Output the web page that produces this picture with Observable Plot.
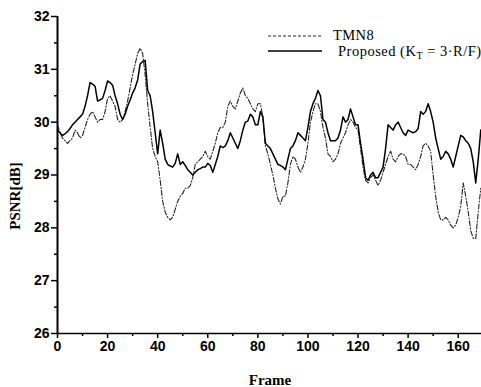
<!DOCTYPE html>
<html><head><meta charset="utf-8">
<script src="https://cdn.jsdelivr.net/npm/d3@7"></script>
<script src="https://cdn.jsdelivr.net/npm/@observablehq/plot@0.6"></script>
<style>body{margin:0;background:#fff}
g[aria-label$="tick label"] text{font-weight:bold}</style>
</head><body><div id="chart"></div>
<script>
const tmn8 = [
29.95,29.8,29.7,29.65,29.6,29.65,29.7,29.85,29.8,29.7,
29.75,29.9,30.05,30.15,30.2,30.1,30.0,30.05,30.05,30.2,
30.45,30.5,30.4,30.3,30.05,30.0,30.05,30.2,30.4,30.65,
30.9,31.1,31.3,31.4,31.3,30.9,30.35,29.9,29.5,29.35,
29.25,28.9,28.5,28.3,28.2,28.15,28.2,28.35,28.5,28.6,
28.65,28.75,28.75,28.8,28.95,29.2,29.25,29.3,29.35,29.45,
29.35,29.3,29.45,29.6,29.8,29.9,29.9,30.0,30.3,30.4,
30.3,30.25,30.4,30.55,30.65,30.5,30.45,30.35,30.25,30.2,
30.35,30.35,30.1,29.55,29.4,29.2,29.0,28.75,28.55,28.45,
28.6,28.6,28.85,29.2,29.35,29.3,29.15,29.05,29.15,29.3,
29.6,30.0,30.2,30.35,30.35,30.2,29.9,29.7,29.4,29.35,
29.25,29.3,29.4,29.6,29.7,29.8,29.95,30.05,30.0,29.9,
29.85,29.5,29.15,28.9,28.85,28.95,29.0,28.9,28.8,28.9,
29.05,29.2,29.35,29.45,29.3,29.25,29.35,29.4,29.4,29.35,
29.2,29.2,29.15,29.1,29.2,29.35,29.55,29.6,29.55,29.45,
29.0,28.6,28.3,28.15,28.15,28.2,28.15,28.05,28.0,28.05,
28.2,28.4,28.85,28.6,28.3,27.95,27.8,27.8,28.3,28.75
];
const proposed = [
29.85,29.8,29.75,29.78,29.82,29.88,29.95,30.0,30.05,30.1,
30.15,30.3,30.5,30.75,30.72,30.68,30.4,30.42,30.45,30.6,
30.78,30.75,30.7,30.5,30.35,30.15,30.05,30.15,30.3,30.42,
30.55,30.65,30.8,31.1,31.15,31.17,30.6,30.5,30.2,29.8,
29.4,29.85,29.6,29.3,29.2,29.17,29.15,29.22,29.4,29.2,
29.25,29.18,29.1,29.05,29.0,29.05,29.1,29.12,29.15,29.15,
29.22,29.18,29.05,29.2,29.35,29.55,29.52,29.55,29.65,29.8,
29.7,29.6,29.5,29.65,29.85,30.0,30.02,30.15,30.1,29.95,
29.95,30.2,30.1,29.6,29.55,29.5,29.4,29.3,29.2,29.18,
29.15,29.1,29.3,29.5,29.55,29.65,29.8,29.75,29.7,29.65,
29.9,30.2,30.35,30.45,30.6,30.5,30.05,30.0,29.8,29.65,
29.65,29.65,29.7,29.85,30.1,30.0,30.05,30.25,30.1,29.95,
29.95,29.6,29.3,28.95,28.9,29.0,29.05,28.95,28.95,29.05,
29.15,29.5,29.95,29.9,29.85,29.95,30.0,29.9,29.8,29.75,
29.85,29.82,29.8,29.82,29.88,30.2,30.15,30.2,30.35,30.2,
30.0,29.7,29.5,29.3,29.35,29.45,29.4,29.3,29.15,29.35,
29.55,29.75,29.72,29.65,29.6,29.5,29.25,28.85,29.3,29.85
];
const xTicks = [0,20,40,60,80,100,120,140,160];
const xMinor = [10,30,50,70,90,110,130,150];
const yTicks = [26,27,28,29,30,31,32];
const yMinor = [26.5,27.5,28.5,29.5,30.5,31.5];
const seriesNames = ["TMN8", "Proposed"];

const rows = [];
tmn8.forEach((v,i)=>rows.push({frame:i, psnr:v, s:seriesNames[0]}));
proposed.forEach((v,i)=>rows.push({frame:i, psnr:v, s:seriesNames[1]}));

const W = 481, H = 387;
const chart = Plot.plot({
  width: W, height: H,
  marginLeft: 57, marginRight: 0, marginTop: 16, marginBottom: 54,
  style: {fontFamily: "Liberation Sans, Arial, sans-serif", fontSize: "14px", color: "#000", background: "#fff"},
  x: {domain: [0, 169.3], label: null},
  y: {domain: [26, 32], label: null},
  marks: [
    Plot.axisX({ticks: xTicks, tickSize: 5, tickPadding: 3, tickFormat: d=>String(d), fontSize: 14, strokeWidth: 1.5}),
    Plot.axisX({ticks: xMinor, tickSize: 3, text: null, strokeWidth: 1.5}),
    Plot.axisY({ticks: yTicks, tickSize: 6, tickPadding: 2, tickFormat: d=>String(d), fontSize: 14, strokeWidth: 1.5}),
    Plot.axisY({ticks: yMinor, tickSize: 3, text: null, strokeWidth: 1.5}),
    Plot.line(rows.filter(d=>d.s===seriesNames[0]), {x:"frame", y:"psnr", stroke:"#222", strokeWidth:1.1, strokeDasharray:"5,2,1,2"}),
    Plot.line(rows.filter(d=>d.s===seriesNames[1]), {x:"frame", y:"psnr", stroke:"#000", strokeWidth:1.5}),
    Plot.ruleX([0], {stroke:"#000", strokeWidth:2}),
    Plot.ruleY([26], {stroke:"#000", strokeWidth:1.5})
  ]
});
document.getElementById("chart").appendChild(chart);

const svg = d3.select(chart);
const serif = "Liberation Serif, Times New Roman, serif";
svg.append("text").attr("x", 270).attr("y", 385).attr("text-anchor","middle")
  .attr("font-family", serif).attr("font-weight","bold").attr("font-size",15).text("Frame");
svg.append("text").attr("transform","translate(20,196) rotate(-90)").attr("text-anchor","middle")
  .attr("font-family", serif).attr("font-weight","bold").attr("font-size",15).text("PSNR[dB]");

// legend
const lg = svg.append("g").attr("font-family", serif).attr("font-size", 14.5).attr("text-anchor","start");
lg.append("line").attr("x1",268).attr("x2",322).attr("y1",36).attr("y2",36)
  .attr("stroke","#222").attr("stroke-width",1.2).attr("stroke-dasharray","3,2");
lg.append("text").attr("x",333).attr("y",39.5).attr("letter-spacing",0.4).text(seriesNames[0]);
lg.append("line").attr("x1",268).attr("x2",322).attr("y1",51).attr("y2",51)
  .attr("stroke","#000").attr("stroke-width",1.4);
const t2 = lg.append("text").attr("x",338).attr("y",55.8).attr("letter-spacing",0.5);
t2.append("tspan").text("Proposed (K");
t2.append("tspan").attr("font-size",10).attr("dy",3).text("T");
t2.append("tspan").attr("dy",-3).text(" = 3\u00B7R/F)");
</script></body></html>
